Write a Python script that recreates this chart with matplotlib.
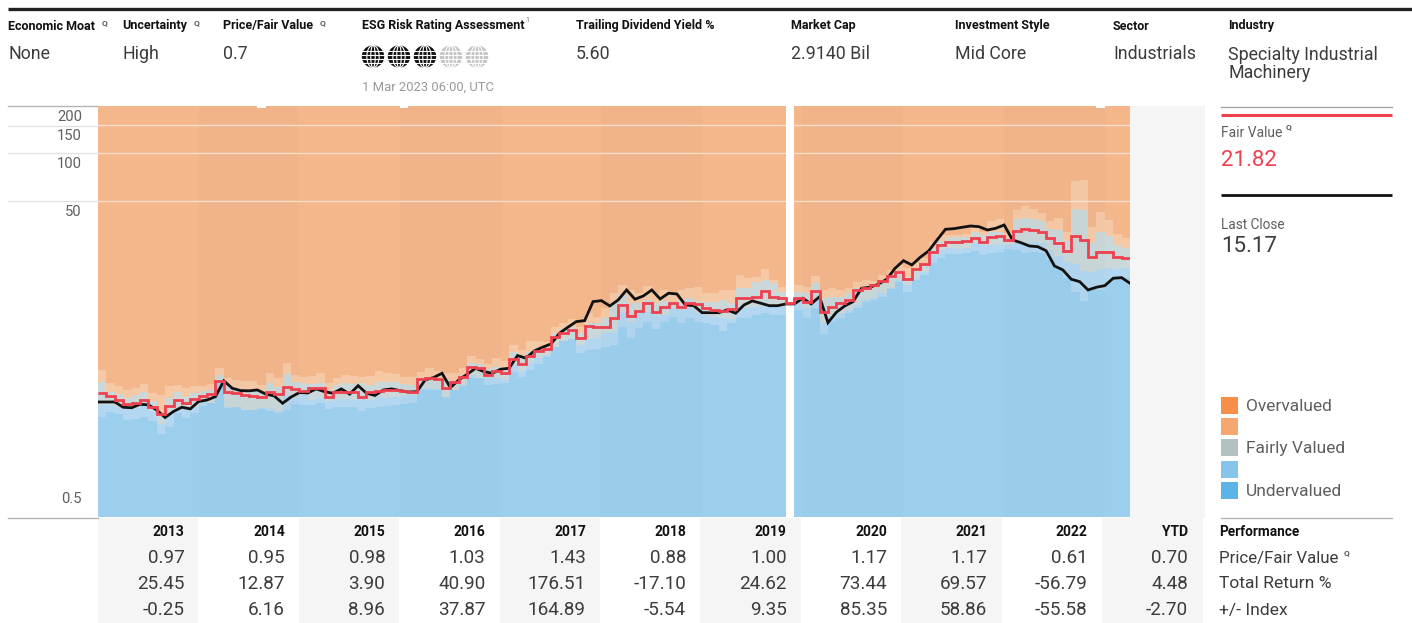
"""Price vs. fair value chart with header strip and performance table."""

import matplotlib

matplotlib.use("Agg")
import matplotlib.pyplot as plt
import numpy as np
from matplotlib.patches import Circle, Ellipse, Rectangle

nan = float("nan")

plt.rcParams["font.family"] = ["Roboto", "DejaVu Sans"]

# valuation band tops, monthly from Jan 2013 (one month has no band data)
over_top = [200.0] * 123
for missing_top in (19, 36, 119):
    over_top[missing_top] = 191.7
over_top[82] = nan

light_over_top = [
    4.36, 3.61, 3.47, 3.26, 3.34, 3.56, 3.11, 3.04, 3.46, 3.51, 3.34, 3.46, 3.46, 3.56, 4.46, 3.86, 3.77, 3.73, 3.73, 3.51, 4.15, 3.86, 4.80, 4.05, 3.95,
    4.01, 4.15, 3.59, 3.86, 4.05, 3.99, 3.92, 3.99, 4.29, 4.15, 4.09, 3.95, 3.92, 4.25, 4.46, 4.29, 4.15, 4.19, 4.46, 5.33, 5.08, 4.75, 5.20, 4.98, 6.25,
    5.81, 6.65, 6.65, 6.56, 8.07, 8.55, 9.06, 8.14, 9.88, 9.41, 10.62, 13.19, 14.87, 13.83, 13.19, 14.65, 13.30, 13.83, 13.49, 13.83, 14.17, 14.38, 13.19, 13.19, 13.83,
    13.83, 17.17, 16.38, 16.61, 18.73, 15.98, 14.50, nan, 14.87, 14.50, 16.93, 13.83, 14.17, 13.83, 14.17, 15.59, 15.98, 15.82, 17.17, 18.46, 19.84, 18.92, 20.34, 21.86, 27.78,
    30.60, 30.60, 30.60, 31.05, 33.86, 31.96, 37.46, 38.56, 31.50, 43.91, 46.52, 44.35, 42.23, 37.62, 38.95, 31.82, 66.74, 67.71, 34.20, 42.47, 38.00, 31.05, 29.18,
]
fair_top = [
    3.65, 3.16, 3.07, 2.92, 3.01, 3.16, 2.76, 2.24, 2.92, 3.16, 2.96, 3.11, 3.23, 3.26, 4.05, 3.51, 3.34, 3.26, 3.23, 3.16, 3.63, 3.42, 4.11, 3.68, 3.59,
    3.54, 3.59, 3.26, 3.51, 3.59, 3.56, 3.59, 3.51, 3.68, 3.65, 3.65, 3.56, 3.51, 3.86, 3.92, 3.86, 3.77, 3.73, 4.05, 4.84, 4.75, 4.40, 4.53, 4.46, 5.62,
    5.23, 5.67, 5.96, 5.96, 7.40, 7.84, 8.14, 7.40, 8.55, 8.55, 9.19, 11.41, 12.87, 11.41, 11.41, 11.97, 11.41, 11.85, 11.68, 11.97, 12.27, 11.85, 11.68, 11.68, 11.97,
    11.41, 14.23, 14.17, 15.59, 15.98, 15.23, 13.49, nan, 13.49, 13.30, 15.23, 12.27, 12.55, 12.55, 13.19, 14.17, 14.50, 14.17, 15.59, 16.93, 18.27, 16.76, 18.92, 20.34, 25.36,
    28.06, 29.18, 29.60, 29.86, 32.09, 30.60, 32.09, 31.82, 29.18, 38.39, 39.29, 38.56, 37.62, 33.23, 32.89, 28.06, 44.35, 43.91, 27.78, 32.09, 30.16, 26.49, 25.25,
]
light_under_top = [
    2.64, 2.63, 2.56, 2.47, 2.51, 2.60, 2.39, 2.00, 2.27, 2.44, 2.51, 2.56, 2.76, 2.70, 3.72, 2.56, 2.56, 2.44, 2.44, 2.51, 2.51, 2.39, 3.01, 2.89, 3.04,
    2.82, 2.92, 2.76, 2.85, 2.85, 2.82, 2.89, 2.82, 2.94, 2.89, 2.96, 2.99, 3.04, 3.34, 3.34, 3.30, 2.96, 3.26, 3.51, 4.05, 3.90, 3.86, 3.90, 3.77, 4.68,
    4.31, 4.80, 5.16, 5.41, 6.05, 6.65, 6.82, 6.25, 6.79, 6.88, 7.40, 7.57, 10.11, 8.75, 10.11, 10.11, 9.64, 9.64, 10.62, 10.36, 10.62, 9.88, 9.64, 9.41, 9.19,
    9.06, 10.98, 10.62, 10.87, 11.30, 11.14, 10.87, nan, 11.68, 10.62, 11.97, 8.55, 9.41, 9.88, 10.36, 11.14, 11.97, 12.27, 13.19, 14.17, 15.98, 14.87, 16.38, 18.01, 22.93,
    24.64, 25.25, 25.00, 25.25, 27.14, 26.49, 26.49, 26.87, 26.49, 27.78, 27.38, 27.78, 27.14, 24.64, 22.60, 20.81, 20.13, 18.20, 18.01, 18.65, 18.92, 18.73, 19.08,
]
under_top = [
    2.20, 2.36, 2.31, 2.12, 2.14, 2.20, 2.09, 1.73, 1.92, 2.35, 2.17, 2.33, 2.60, 2.69, 3.59, 2.51, 2.54, 2.44, 2.44, 2.47, 2.42, 2.35, 2.44, 2.67, 2.63,
    2.63, 2.69, 2.48, 2.56, 2.56, 2.54, 2.42, 2.51, 2.56, 2.60, 2.63, 2.67, 2.69, 3.26, 3.26, 3.26, 2.94, 3.26, 3.47, 3.90, 3.90, 3.51, 3.54, 3.59, 4.23,
    3.92, 4.36, 4.75, 5.28, 6.05, 6.65, 6.82, 5.54, 5.81, 5.87, 6.10, 6.25, 8.14, 6.94, 7.95, 8.75, 7.84, 8.75, 9.41, 8.55, 9.19, 8.75, 8.55, 8.34, 7.68,
    8.62, 9.19, 9.19, 9.64, 9.88, 9.64, 9.64, nan, 10.36, 9.19, 10.62, 7.33, 8.75, 9.19, 9.88, 10.62, 11.68, 11.97, 12.55, 13.97, 15.59, 13.49, 15.98, 17.17, 20.42,
    21.86, 23.26, 23.26, 23.49, 24.29, 22.93, 23.49, 24.04, 25.00, 24.64, 23.70, 24.04, 23.70, 21.33, 19.36, 16.45, 13.49, 11.85, 14.03, 13.83, 15.59, 16.38, 16.38,
]
fair_value = [
    3.11, 2.99, 2.82, 2.65, 2.69, 2.80, 2.56, 2.30, 2.59, 2.82, 2.69, 2.85, 2.99, 3.08, 3.73, 3.17, 3.11, 3.04, 2.99, 2.96, 3.16, 3.07, 3.42, 3.31, 3.22,
    3.37, 3.37, 2.96, 3.16, 3.18, 3.18, 2.96, 3.16, 3.23, 3.26, 3.26, 3.23, 3.18, 3.81, 3.86, 3.83, 3.37, 3.65, 3.95, 4.53, 4.50, 4.07, 4.29, 4.15, 5.08,
    4.73, 5.33, 5.73, 5.90, 7.05, 7.46, 7.76, 6.94, 8.22, 8.14, 8.07, 9.19, 11.14, 9.54, 10.21, 11.41, 10.02, 10.77, 11.41, 10.87, 11.41, 11.25, 10.62, 10.36, 10.26,
    10.47, 12.37, 12.37, 12.45, 13.69, 12.55, 12.27, 11.41, 12.27, 11.68, 13.69, 10.11, 10.87, 11.41, 11.97, 13.83, 14.17, 14.87, 15.75, 16.93, 18.01, 16.21, 18.73, 20.13, 23.84,
    26.49, 27.78, 27.54, 28.18, 29.18, 27.78, 29.86, 30.16, 28.47, 32.56, 33.23, 32.89, 31.82, 29.43, 27.38, 24.29, 30.16, 28.47, 22.18, 24.04, 24.04, 22.18, 21.86,
]
# month-end close, first entry is the start of Jan 2013
close = [
    2.74, 2.74, 2.74, 2.54, 2.52, 2.65, 2.63, 2.44, 2.19, 2.39, 2.54, 2.48, 2.76, 2.82, 2.96, 3.72, 3.34, 3.23, 3.22, 3.26, 3.07, 2.99, 2.69, 2.94, 3.14, 3.12,
    3.31, 3.18, 3.11, 3.31, 3.07, 3.47, 3.11, 3.01, 3.26, 3.31, 3.23, 3.16, 3.18, 3.77, 3.90, 4.15, 3.37, 3.77, 4.09, 4.46, 4.25, 4.15, 4.40, 4.46, 5.36,
    5.16, 5.73, 6.05, 6.34, 7.40, 8.07, 8.75, 8.88, 11.68, 11.85, 10.98, 11.97, 13.83, 12.09, 12.68, 13.83, 12.14, 13.19, 13.05, 11.14, 11.02, 9.96, 9.96, 9.96, 10.36,
    9.88, 11.14, 11.80, 11.41, 11.02, 11.02, 11.30, 11.30, 12.27, 11.30, 12.55, 8.62, 10.02, 10.98, 11.68, 14.17, 14.38, 15.02, 16.14, 18.92, 21.11, 19.84, 22.18, 24.29, 28.47,
    33.23, 33.52, 34.20, 34.85, 34.50, 32.89, 33.71, 35.36, 28.47, 27.38, 26.11, 25.84, 24.39, 19.56, 18.46, 16.14, 15.59, 13.83, 14.38, 14.72, 16.38, 16.52, 15.23,
]

y_ticks = [150, 100, 50]
y_labels = ["200", "150", "100", "50", "0.5"]

header_titles = ["Economic Moat", "Uncertainty", "Price/Fair Value", "ESG Risk Rating Assessment",
                 "Trailing Dividend Yield %", "Market Cap", "Investment Style", "Sector", "Industry"]
header_values = ["None", "High", "0.7", "", "5.60", "2.9140 Bil", "Mid Core", "Industrials", "Specialty Industrial\nMachinery"]

years = ["2013", "2014", "2015", "2016", "2017", "2018", "2019", "2020", "2021", "2022", "YTD"]
price_fair = ["0.97", "0.95", "0.98", "1.03", "1.43", "0.88", "1.00", "1.17", "1.17", "0.61", "0.70"]
total_return = ["25.45", "12.87", "3.90", "40.90", "176.51", "-17.10", "24.62", "73.44", "69.57", "-56.79", "4.48"]
vs_index = ["-0.25", "6.16", "8.96", "37.87", "164.89", "-5.54", "9.35", "85.35", "58.86", "-55.58", "-2.70"]

legend_colors = ["#F68F4A", "#F5A76F", "#B1C2C1", "#88C3EC", "#5CB3E8"]
legend_labels = ["Overvalued", "", "Fairly Valued", "", "Undervalued"]

W, H = 1412, 623
GREY = "#5f5f5f"
DARK = "#3c3c3c"
RED = "#EF4050"

fig = plt.figure(figsize=(W / 100, H / 100), dpi=100)

# pixel-coordinate layer for everything around the plot
bg = fig.add_axes([0, 0, 1, 1])
bg.set_xlim(0, W)
bg.set_ylim(H, 0)
bg.axis("off")


def label(x, y, s, size=12.5, color=DARK, weight="normal", ha="left", **kw):
    bg.text(x, y + 1, s, fontsize=size, color=color, fontweight=weight, ha=ha, va="center", **kw)


def globe(cx, cy, color):
    r = 11.2
    bg.add_patch(Circle((cx, cy), r, fc=color, ec="none"))
    for w in (r * 1.1, r * 0.4):
        bg.add_patch(Ellipse((cx, cy), w, 2 * r, fc="none", ec="white", lw=0.8))
    for dy in (-6, -2, 2, 6):
        bg.plot([cx - r, cx + r], [cy + dy, cy + dy], color="white", lw=0.8)


# header strip
bg.plot([8, W], [9, 9], color="#222222", lw=2.4, solid_capstyle="butt")
header_x = [8, 122, 223, 362, 576, 791, 955, 1113, 1228]
for x, title, value in zip(header_x, header_titles, header_values):
    label(x, 25, title, size=9, color="#111111", weight="bold")
    if "\n" in value:
        label(x, 63, value, size=12.8, color=DARK, linespacing=1.05)
    elif value:
        label(x, 53, value, size=12.8, color=DARK)
for x, y in [(105, 22), (196, 22), (322, 22), (1288, 126), (1346, 552)]:
    label(x, y, "Q", size=6, color="#555555", weight="bold", ha="center")
label(527, 20, "1", size=5, color="#777777", ha="center")
for i, cx in enumerate([373, 399, 425, 451, 477]):
    globe(cx, 56.5, "#111111" if i < 3 else "#c4c4c4")
label(362, 86, "1 Mar 2023 06:00, UTC", size=9.4, color="#9a9a9a")

# table bands and the grey strip right of the plot
for left, right in [(98, 198), (299, 399), (500, 600), (700, 801), (901, 1002), (1102, 1203)]:
    bg.add_patch(Rectangle((left, 518), right - left, H - 518, fc="#F5F5F5", ec="none"))
bg.add_patch(Rectangle((1130, 106), 75, 412, fc="#F5F5F5", ec="none"))

# axis labels on the left
for y, tick in [(106, "#b5b5b5"), (126, "#e2e2e2"), (153, "#e2e2e2"), (201, "#e2e2e2")]:
    bg.plot([8, 98], [y, y], color=tick, lw=1)
bg.plot([8, 98], [517.5, 517.5], color="#b5b5b5", lw=1, zorder=1)
bg.plot([1221, 1392], [517.5, 517.5], color="#b5b5b5", lw=1, zorder=1)
for y, text in zip([116, 135, 163, 211, 498], y_labels):
    label(82, y, text, size=10.6, color=GREY, ha="right")

# main plot: price on a log scale, one bar per month
ax = fig.add_axes([98 / W, 1 - 517 / H, (1130 - 98) / W, (517 - 106) / H])
ax.set_facecolor("#F7F7F7")
ax.set_yscale("log")
ax.set_xlim(0, 123)
ax.set_ylim(0.52, 197.3)
ax.axis("off")
ax.patch.set_visible(True)

months = np.arange(123)
edges = np.arange(124)
floor = 0.52
layers = [
    (over_top, "#F4B78C"),
    (light_over_top, "#F6C9A6"),
    (fair_top, "#CBD8DA"),
    (light_under_top, "#B3D7F0"),
    (under_top, "#9CCFEE"),
]
for z, (top, color) in enumerate(layers):
    ax.bar(months, np.array(top) - floor, bottom=floor, width=1.0, align="edge",
           color=color, linewidth=0, antialiased=False, zorder=1 + z)

# every other year is slightly darker
for start in range(12, 120, 24):
    ax.axvspan(start, start + 12, color="black", alpha=0.012, lw=0, zorder=7)

for tick in y_ticks:
    ax.axhline(tick, color="white", alpha=0.55, lw=1, zorder=8)

ax.plot(edges, close, color="#111111", lw=2.0, zorder=9, solid_joinstyle="miter")
ax.stairs(fair_value, edges, color=RED, lw=2.0, baseline=None, zorder=10)

# right-hand panel
bg.plot([1221, 1392], [106.5, 106.5], color="#a8a8a8", lw=1)
bg.plot([1221, 1392], [114.5, 114.5], color=RED, lw=2.2, solid_capstyle="butt")
label(1221, 132, "Fair Value", size=10, color=GREY)
label(1221, 160, "21.82", size=16, color=RED)
bg.plot([1221, 1392], [194.5, 194.5], color="#111111", lw=2, solid_capstyle="butt")
label(1221, 224, "Last Close", size=9.8, color=GREY)
label(1221, 245, "15.17", size=16, color=DARK)

for i, (color, text) in enumerate(zip(legend_colors, legend_labels)):
    y = 397 + i * 21.2
    bg.add_patch(Rectangle((1221, y), 17, 17, fc=color, ec="none"))
    if text:
        label(1246, y + 8.5, text, size=12.5, color=GREY)

# performance table
for i, year in enumerate(years):
    x = 184.5 + 100.35 * i
    label(x, 531, year, size=10, color="#111111", weight="bold", ha="right")
    label(x, 557, price_fair[i], size=13.6, ha="right")
    label(x, 583, total_return[i], size=13.6, ha="right")
    label(x, 609, vs_index[i], size=13.6, ha="right")
label(1219, 531, "Performance", size=9.8, color="#111111", weight="bold")
label(1219, 557, "Price/Fair Value", size=12.2)
label(1219, 583, "Total Return %", size=12.6)
label(1219, 609, "+/- Index", size=12.6)

fig.savefig("out.png", dpi=100)
plt.close(fig)
